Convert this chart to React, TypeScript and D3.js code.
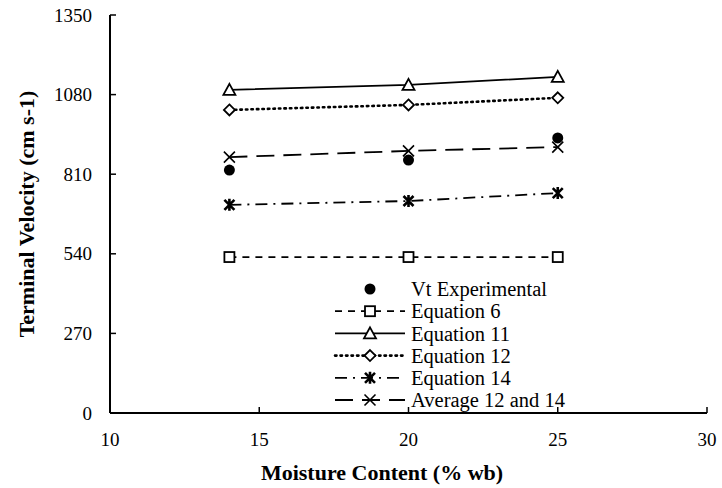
import * as d3 from "d3";
import React, { useEffect, useRef } from "react";

const moisture = [14, 20, 25];
const vtExperimental = [824, 858, 933];
const equation6 = [529, 529, 529];
const equation11 = [1096, 1113, 1140];
const equation12 = [1028, 1045, 1069];
const equation14 = [706, 719, 746];
const average12and14 = [868, 889, 902];

const xTicks = [10, 15, 20, 25, 30];
const yTicks = [0, 270, 540, 810, 1080, 1350];

type Series = { name: string; values: number[]; dash: string | null; marker: string; };

const seriesList: Series[] = [
  { name: "Vt Experimental", values: vtExperimental, dash: null, marker: "circle" },
  { name: "Equation 6", values: equation6, dash: "7,6", marker: "square" },
  { name: "Equation 11", values: equation11, dash: "", marker: "triangle" },
  { name: "Equation 12", values: equation12, dash: "1.5,4", marker: "diamond" },
  { name: "Equation 14", values: equation14, dash: "12,6,2,6", marker: "star" },
  { name: "Average 12 and 14", values: average12and14, dash: "18,9", marker: "x" },
];

const W = 722, H = 488;
const FONT = "Liberation Serif, Times New Roman, serif";

function drawMarker(g: any, kind: string, cx: number, cy: number) {
  if (kind === "circle") {
    g.append("circle").attr("cx", cx).attr("cy", cy).attr("r", 5.5).attr("fill", "#000");
  } else if (kind === "square") {
    g.append("rect").attr("x", cx - 5).attr("y", cy - 5).attr("width", 10).attr("height", 10)
      .attr("fill", "#fff").attr("stroke", "#000").attr("stroke-width", 1.8);
  } else if (kind === "triangle") {
    g.append("path").attr("d", `M${cx},${cy - 6}L${cx + 6},${cy + 5}L${cx - 6},${cy + 5}Z`)
      .attr("fill", "#fff").attr("stroke", "#000").attr("stroke-width", 1.8);
  } else if (kind === "diamond") {
    g.append("path").attr("d", `M${cx},${cy - 5.5}L${cx + 5.5},${cy}L${cx},${cy + 5.5}L${cx - 5.5},${cy}Z`)
      .attr("fill", "#fff").attr("stroke", "#000").attr("stroke-width", 1.8);
  } else if (kind === "star") {
    const s = 5;
    g.append("path")
      .attr("d", `M${cx - s},${cy - s}L${cx + s},${cy + s}M${cx + s},${cy - s}L${cx - s},${cy + s}M${cx},${cy - s - 1}L${cx},${cy + s + 1}`)
      .attr("stroke", "#000").attr("stroke-width", 2.6).attr("fill", "none");
  } else if (kind === "x") {
    const s = 5.5;
    g.append("path")
      .attr("d", `M${cx - s},${cy - s}L${cx + s},${cy + s}M${cx + s},${cy - s}L${cx - s},${cy + s}`)
      .attr("stroke", "#000").attr("stroke-width", 1.6).attr("fill", "none");
  }
}

export default function App() {
  const svgRef = useRef<SVGSVGElement | null>(null);

  useEffect(() => {
    const svg = d3.select(svgRef.current);
    svg.selectAll("*").remove();

    const x = d3.scaleLinear().domain([10, 30]).range([110, 707]);
    const y = d3.scaleLinear().domain([0, 1350]).range([413, 15]);

    const g = svg.append("g").attr("font-family", FONT);

    // axes
    const axisG = g.append("g");
    axisG.append("line").attr("x1", x(10)).attr("x2", x(30)).attr("y1", y(0)).attr("y2", y(0))
      .attr("stroke", "#000").attr("stroke-width", 2);
    axisG.append("line").attr("x1", x(10)).attr("x2", x(10)).attr("y1", y(0)).attr("y2", y(1350))
      .attr("stroke", "#000").attr("stroke-width", 2);

    yTicks.forEach(t => {
      axisG.append("line").attr("x1", x(10)).attr("x2", x(10) + 6).attr("y1", y(t)).attr("y2", y(t))
        .attr("stroke", "#000").attr("stroke-width", 1.5);
      axisG.append("text").attr("x", 92).attr("y", y(t)).attr("dy", "0.35em")
        .attr("text-anchor", "end").attr("font-size", 19).text(String(t));
    });
    xTicks.forEach(t => {
      axisG.append("line").attr("x1", x(t)).attr("x2", x(t)).attr("y1", y(0)).attr("y2", y(0) - 6)
        .attr("stroke", "#000").attr("stroke-width", 1.5);
      axisG.append("text").attr("x", x(t)).attr("y", 439).attr("dy", "0.35em")
        .attr("text-anchor", "middle").attr("font-size", 19).text(String(t));
    });

    axisG.append("text").attr("x", 382).attr("y", 472).attr("dy", "0.35em")
      .attr("text-anchor", "middle").attr("font-size", 22)
      .attr("font-weight", "bold").text("Moisture Content (% wb)");
    axisG.append("text").attr("transform", `translate(26,${(y(0) + y(1350)) / 2}) rotate(-90)`)
      .attr("dy", "0.35em").attr("text-anchor", "middle").attr("font-size", 22)
      .attr("font-weight", "bold").text("Terminal Velocity (cm s-1)");

    const line = d3.line<number>().x((_, i) => x(moisture[i])).y(d => y(d));

    seriesList.forEach(s => {
      if (s.dash !== null) {
        g.append("path").datum(s.values).attr("d", line).attr("fill", "none")
          .attr("stroke", "#000").attr("stroke-width", s.marker === "diamond" ? 2.6 : 1.8)
          .attr("stroke-linecap", s.marker === "diamond" ? "round" : "butt")
          .attr("stroke-dasharray", s.dash || null);
      }
    });
    const mg = g.append("g");
    seriesList.forEach(s => {
      s.values.forEach((v, i) => drawMarker(mg, s.marker, x(moisture[i]), y(v)));
    });

    // legend
    const lg = g.append("g");
    seriesList.forEach((s, i) => {
      const ly = 289 + i * 22.2;
      if (s.dash !== null) {
        lg.append("line").attr("x1", 335).attr("x2", 405).attr("y1", ly).attr("y2", ly)
          .attr("stroke", "#000").attr("stroke-width", s.marker === "diamond" ? 2.6 : 1.8)
          .attr("stroke-linecap", s.marker === "diamond" ? "round" : "butt")
          .attr("stroke-dasharray", s.dash || null);
      }
      drawMarker(lg, s.marker, 370, ly);
      lg.append("text").attr("x", 411).attr("y", ly).attr("dy", "0.35em")
        .attr("font-size", 20.5).text(s.name);
    });
  }, []);

  return (
    <div style={{ position: "absolute", left: 0, top: 0, width: W, height: H, background: "#fff" }}>
      <svg ref={svgRef} width={W} height={H} />
    </div>
  );
}
